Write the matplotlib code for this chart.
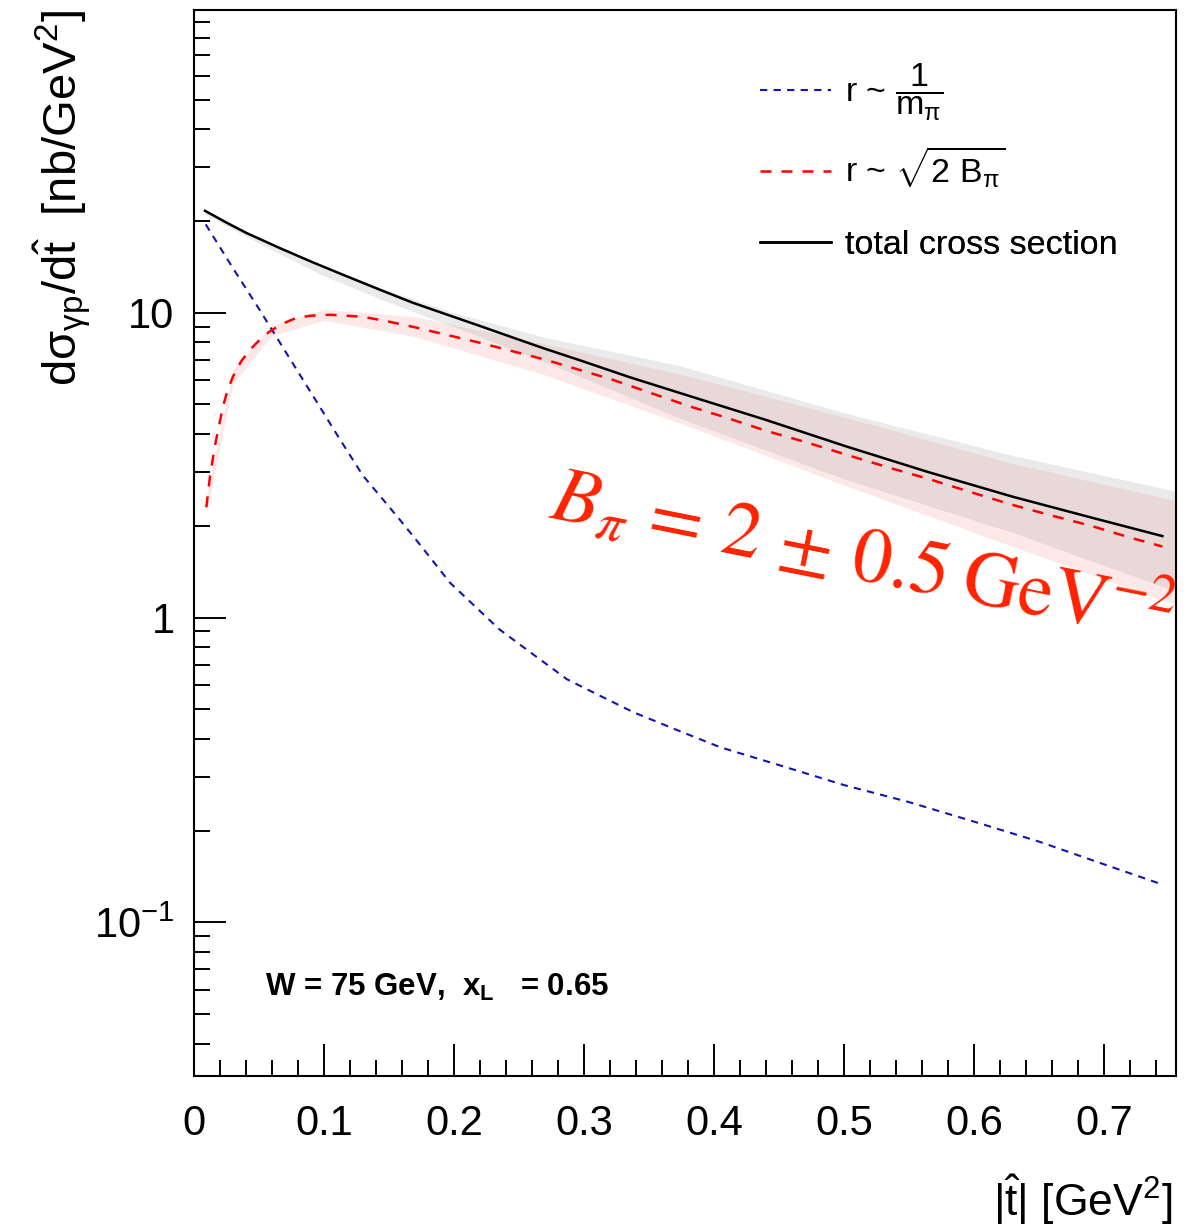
import numpy as np
import matplotlib
matplotlib.use("Agg")
import matplotlib.pyplot as plt
from matplotlib.ticker import FixedLocator, MultipleLocator, FuncFormatter
from matplotlib.lines import Line2D

plt.rcParams['font.family'] = ['Liberation Sans', 'DejaVu Sans']
plt.rcParams['mathtext.fontset'] = 'custom'
plt.rcParams['mathtext.rm'] = 'Liberation Sans'
plt.rcParams['mathtext.it'] = 'Liberation Sans:italic'
plt.rcParams['mathtext.bf'] = 'Liberation Sans:bold'

# total cross section
t_total = [0.0085, 0.0246, 0.04, 0.066, 0.092, 0.117, 0.143, 0.168, 0.195, 0.22, 0.245, 0.27, 0.297,
           0.335, 0.374, 0.44, 0.502, 0.565, 0.63, 0.69, 0.745]
s_total = [21.6, 19.8, 18.3, 16.3, 14.6, 13.2, 11.9, 10.8, 9.85, 9.05, 8.3, 7.62, 6.98,
           6.15, 5.45, 4.45, 3.64, 3.0, 2.49, 2.13, 1.85]

# r ~ sqrt(2 B_pi)
t_bpi = [0.0095, 0.0123, 0.016, 0.0223, 0.026, 0.030, 0.036, 0.043, 0.05, 0.058, 0.068, 0.079, 0.09,
         0.105, 0.13, 0.15, 0.168, 0.195, 0.22, 0.245, 0.271, 0.30, 0.322, 0.35, 0.382, 0.41, 0.44,
         0.47, 0.502, 0.535, 0.565, 0.60, 0.63, 0.66, 0.69, 0.72, 0.745]
s_bpi = [2.3, 2.9, 3.64, 4.92, 5.6, 6.17, 6.9, 7.56, 8.1, 8.67, 9.2, 9.63, 9.78,
         9.85, 9.7, 9.35, 9.0, 8.45, 7.97, 7.48, 7.0, 6.43, 6.03, 5.48, 4.92, 4.52, 4.1,
         3.77, 3.42, 3.1, 2.85, 2.56, 2.34, 2.16, 2.0, 1.83, 1.71]

# r ~ 1/m_pi
t_mpi = [0.009, 0.03, 0.05, 0.07, 0.092, 0.11, 0.13, 0.145, 0.1585, 0.175, 0.197, 0.215, 0.235,
         0.26, 0.287, 0.31, 0.338, 0.37, 0.405, 0.45, 0.50, 0.55, 0.60, 0.65, 0.70, 0.745]
s_mpi = [19.5, 14.0, 10.3, 7.5, 5.3, 3.98, 2.92, 2.45, 2.09, 1.71, 1.30, 1.10, 0.914,
         0.762, 0.627, 0.56, 0.489, 0.43, 0.375, 0.328, 0.282, 0.248, 0.214, 0.184, 0.155, 0.133]

# uncertainty bands (B_pi = 2 +- 0.5)
t_band_b = [0.0095, 0.03, 0.06, 0.10, 0.17, 0.27, 0.38, 0.50, 0.63, 0.755]
hi_band_b = [2.5, 6.5, 9.1, 10.25, 9.7, 7.9, 6.2, 4.55, 3.2, 2.42]
lo_band_b = [2.2, 5.85, 8.4, 9.45, 8.35, 6.25, 4.25, 2.72, 1.71, 1.1]

t_band_tot = [0.0085, 0.05, 0.10, 0.15, 0.20, 0.27, 0.374, 0.50, 0.63, 0.755]
hi_band_tot = [21.8, 17.7, 14.2, 11.8, 10.0, 8.3, 6.7, 4.7, 3.4, 2.6]
lo_band_tot = [21.0, 16.9, 13.2, 10.8, 9.0, 6.9, 4.5, 2.85, 1.9, 1.22]

blue = '#1414b4'
red = '#ff0000'

fig = plt.figure(figsize=(12.02, 12.29), dpi=100)
ax = fig.add_axes([194/1202, 1-1076/1229, (1176-194)/1202, (1076-10)/1229])

ax.fill_between(t_band_b, lo_band_b, hi_band_b, color='#fde8e8', lw=0, zorder=1)
ax.fill_between(t_band_tot, lo_band_tot, hi_band_tot, color=(0.565, 0.565, 0.565), alpha=0.18, lw=0, zorder=2)

ax.plot(t_mpi, s_mpi, color=blue, lw=1.5, dashes=(3.5, 3.0), zorder=3)
ax.plot(t_bpi, s_bpi, color=red, lw=1.8, dashes=(4.4, 4.0), zorder=4)
ax.plot(t_total, s_total, color='black', lw=1.8, zorder=5)

ax.set_yscale('log')
ax.set_xlim(0, 0.7555)
ax.set_ylim(0.0313, 98.5)

ax.xaxis.set_major_locator(MultipleLocator(0.1))
ax.xaxis.set_minor_locator(MultipleLocator(0.02))
ax.xaxis.set_major_formatter(FuncFormatter(lambda v, p: '0' if abs(v) < 1e-9 else '%.1f' % v))

ymaj = [0.1, 1, 10]
ymin = [m * d for d in (0.01, 0.1, 1, 10) for m in range(2, 10)]
ax.yaxis.set_major_locator(FixedLocator(ymaj))
ax.yaxis.set_minor_locator(FixedLocator(ymin))
ax.yaxis.set_major_formatter(FuncFormatter(lambda v, p: {0.1: r'$10^{-1}$', 1: '1', 10: '10'}.get(round(v, 3), '')))
ax.yaxis.set_minor_formatter(FuncFormatter(lambda v, p: ''))

ax.tick_params(which='both', direction='in', top=False, right=False, width=1.4, labelsize=30)
ax.tick_params(which='major', length=23)
ax.tick_params(which='minor', length=11.5)
ax.tick_params(axis='x', which='major', pad=20)
ax.tick_params(axis='y', which='major', pad=14)
for sp in ax.spines.values():
    sp.set_linewidth(1.5)

# legend, one entry per row so the spacing follows the reference
handles = [Line2D([], [], color=blue, lw=1.5, dashes=(3.5, 3.0)),
           Line2D([], [], color=red, lw=1.8, dashes=(4.4, 4.0)),
           Line2D([], [], color='black', lw=1.8)]
labels = [r'r ~ $\dfrac{1}{\mathrm{m}_{\mathrm{\pi}}}$', r'r ~ $\sqrt{2\ \mathrm{B}_{\mathrm{\pi}}}$',
          'total cross section']
rows_px = [92, 168, 245]
for h, lab, ypx in zip(handles, labels, rows_px):
    leg = ax.legend([h], [lab], loc='center left', bbox_to_anchor=((760-194)/982, 1-(ypx-10)/1066),
                    frameon=False, fontsize=24.5, handlelength=2.1, handletextpad=0.4,
                    borderaxespad=0, borderpad=0)
    ax.add_artist(leg)

ax.text((548-194)/982, 1-(518-10)/1066, r'$B_{\pi}\,=\,2\,\pm\,0.5\;\mathrm{GeV}^{-2}$',
        transform=ax.transAxes, color='#ff2200', fontsize=56, math_fontfamily='stix',
        rotation=-11.3, rotation_mode='anchor', ha='left', va='baseline', zorder=6)

ax.text((265-194)/982, 1-(996-10)/1066, r'W = 75 GeV,  x$_{\mathbf{L}}$   = 0.65',
        transform=ax.transAxes, fontsize=22.5, fontweight='bold', ha='left', va='baseline')

fig.text(1172/1202, 1-1200/1229, r'$|\hat{\mathrm{t}}|$ [GeV$^{2}$]', fontsize=32, ha='right', va='center')
fig.text(62/1202, 1-10/1229, r'd$\mathrm{\sigma}_{\mathrm{\gamma p}}$/d$\hat{\mathrm{t}}$  [nb/GeV$^{2}$]',
         fontsize=34, rotation=90, ha='center', va='top')

fig.savefig('out.png', dpi=100)
